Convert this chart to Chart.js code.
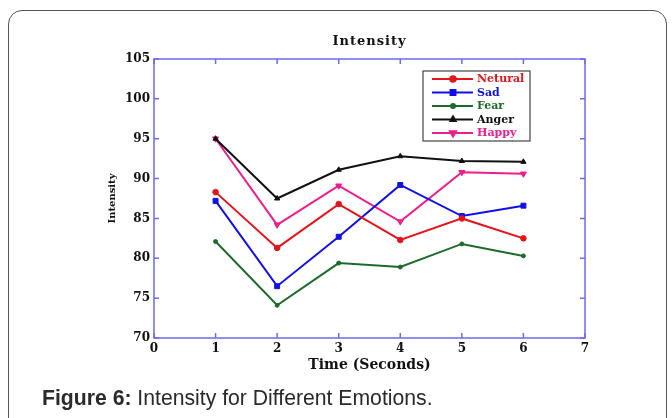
<!DOCTYPE html>
<html>
<head>
<meta charset="utf-8">
<script src="https://cdn.jsdelivr.net/npm/chart.js@4"></script>
<style>
  html, body { margin: 0; padding: 0; background: #fff; overflow: hidden; }
  #page { position: relative; width: 672px; height: 418px; overflow: hidden; }
  #box { position: absolute; left: 8px; top: 10px; width: 657px; height: 440px;
         border: 1px solid #555; border-radius: 14px; }
  #wrap { position: absolute; left: 0; top: 0; width: 672px; height: 418px; }
  #caption { position: absolute; left: 42px; top: 386px; font-family: "Liberation Sans", Arial, sans-serif;
             font-size: 21.2px; color: #2a2a2a; white-space: nowrap; }
</style>
</head>
<body>
<div id="page">
  <div id="box"></div>
  <div id="wrap"><canvas id="myChart"></canvas></div>
  <div id="caption"><b>Figure 6:</b> Intensity for Different Emotions.</div>
</div>
<script>
var xValues = [1, 2, 3, 4, 5, 6];
var seriesNames = ["Netural", "Sad", "Fear", "Anger", "Happy"];
var neturalValues = [88.3, 81.3, 86.8, 82.3, 85.0, 82.5];
var sadValues = [87.2, 76.5, 82.7, 89.2, 85.3, 86.6];
var fearValues = [82.1, 74.1, 79.4, 78.9, 81.8, 80.3];
var angerValues = [95.0, 87.5, 91.1, 92.8, 92.2, 92.1];
var happyValues = [95.0, 84.2, 89.1, 84.6, 90.8, 90.6];
var xTicks = [0, 1, 2, 3, 4, 5, 6, 7];
var yTicks = [70, 75, 80, 85, 90, 95, 100, 105];
var plotTitle = "Intensity";

var colors = ["#e4141b", "#1010e6", "#1d6b2a", "#111111", "#ee1c8c"];
var styles = ["circle", "rect", "circle", "triangle", "triangle"];
var rotations = [0, 0, 0, 0, 180];
var radii = [2.8, 3.5, 2, 3, 3.5];
var allValues = [neturalValues, sadValues, fearValues, angerValues, happyValues];

var serif = "'DejaVu Serif', 'Liberation Serif', serif";
var frameColor = "#6b6bf0";

function toPoints(vals) {
  return vals.map(function (v, i) { return {x: xValues[i], y: v}; });
}

var datasets = seriesNames.map(function (name, i) {
  return {
    label: name,
    data: toPoints(allValues[i]),
    borderColor: colors[i],
    backgroundColor: colors[i],
    borderWidth: 2,
    pointStyle: styles[i],
    pointRotation: rotations[i],
    pointRadius: radii[i],
    pointBorderWidth: 1,
    tension: 0
  };
});

// blue box with inward ticks on all four sides, title centred over the plot
var framePlugin = {
  id: "frame",
  afterDatasetsDraw: function (chart) {
    var ctx = chart.ctx, a = chart.chartArea;
    var xs = chart.scales.x, ys = chart.scales.y;
    ctx.save();
    ctx.strokeStyle = frameColor;
    ctx.lineWidth = 1.5;
    ctx.strokeRect(a.left, a.top, a.right - a.left, a.bottom - a.top);
    ctx.beginPath();
    xTicks.forEach(function (t) {
      var px = xs.getPixelForValue(t);
      ctx.moveTo(px, a.bottom); ctx.lineTo(px, a.bottom - 5);
      ctx.moveTo(px, a.top); ctx.lineTo(px, a.top + 5);
    });
    yTicks.forEach(function (t) {
      var py = ys.getPixelForValue(t);
      ctx.moveTo(a.left, py); ctx.lineTo(a.left + 5, py);
      ctx.moveTo(a.right, py); ctx.lineTo(a.right - 5, py);
    });
    ctx.stroke();

    ctx.fillStyle = "#111";
    ctx.font = "bold 13px " + serif;
    ctx.letterSpacing = "1px";
    ctx.textAlign = "center";
    ctx.textBaseline = "middle";
    ctx.fillText(plotTitle, (a.left + a.right) / 2, a.top - 17);
    ctx.restore();
  }
};

// legend drawn inside the plot, upper right
var boxLegend = {
  id: "boxLegend",
  afterDraw: function (chart) {
    var ctx = chart.ctx;
    var x0 = 423, y0 = 71, w = 107, h = 70, step = 13.5;
    ctx.save();
    ctx.fillStyle = "#fff";
    ctx.fillRect(x0, y0, w, h);
    ctx.strokeStyle = "#444";
    ctx.lineWidth = 1.2;
    ctx.strokeRect(x0, y0, w, h);
    chart.data.datasets.forEach(function (ds, i) {
      var y = y0 + 8 + i * step;
      ctx.strokeStyle = ds.borderColor;
      ctx.fillStyle = ds.borderColor;
      ctx.lineWidth = 2;
      ctx.beginPath();
      ctx.moveTo(x0 + 9, y); ctx.lineTo(x0 + 50, y);
      ctx.stroke();
      Chart.helpers.drawPoint(ctx, {pointStyle: ds.pointStyle, rotation: ds.pointRotation,
        radius: ds.pointRadius, borderWidth: 1}, x0 + 30, y);
      ctx.font = "bold 11px " + serif;
      ctx.textBaseline = "middle";
      ctx.textAlign = "left";
      ctx.fillText(ds.label, x0 + 54, y + 0.5);
    });
    ctx.restore();
  }
};

new Chart("myChart", {
  type: "line",
  data: {datasets: datasets},
  options: {
    responsive: true,
    maintainAspectRatio: false,
    animation: false,
    layout: {padding: {left: 106, right: 87, top: 59, bottom: 44}},
    plugins: {
      legend: {display: false},
      tooltip: {enabled: false},
      title: {display: false}
    },
    scales: {
      x: {
        type: "linear",
        min: 0, max: 7,
        afterBuildTicks: function (s) { s.ticks = xTicks.map(function (v) { return {value: v}; }); },
        afterFit: function (s) { s.height = 36; },
        grid: {display: false, drawTicks: false, tickLength: 0},
        border: {display: false},
        ticks: {color: "#111", padding: 4, font: {family: serif, size: 12, weight: "bold"}},
        title: {display: true, text: "Time (Seconds)", color: "#111", padding: 0,
                font: {family: serif, size: 14, weight: "bold"}}
      },
      y: {
        min: 70, max: 105,
        afterBuildTicks: function (s) { s.ticks = yTicks.map(function (v) { return {value: v}; }); },
        afterFit: function (s) { s.width = 48; },
        grid: {display: false, drawTicks: false, tickLength: 0},
        border: {display: false},
        ticks: {color: "#111", padding: 4, font: {family: serif, size: 12, weight: "bold"}},
        title: {display: true, text: "Intensity", color: "#111", padding: 0,
                font: {family: serif, size: 10, weight: "bold"}}
      }
    }
  },
  plugins: [framePlugin, boxLegend]
});
</script>
</body>
</html>
